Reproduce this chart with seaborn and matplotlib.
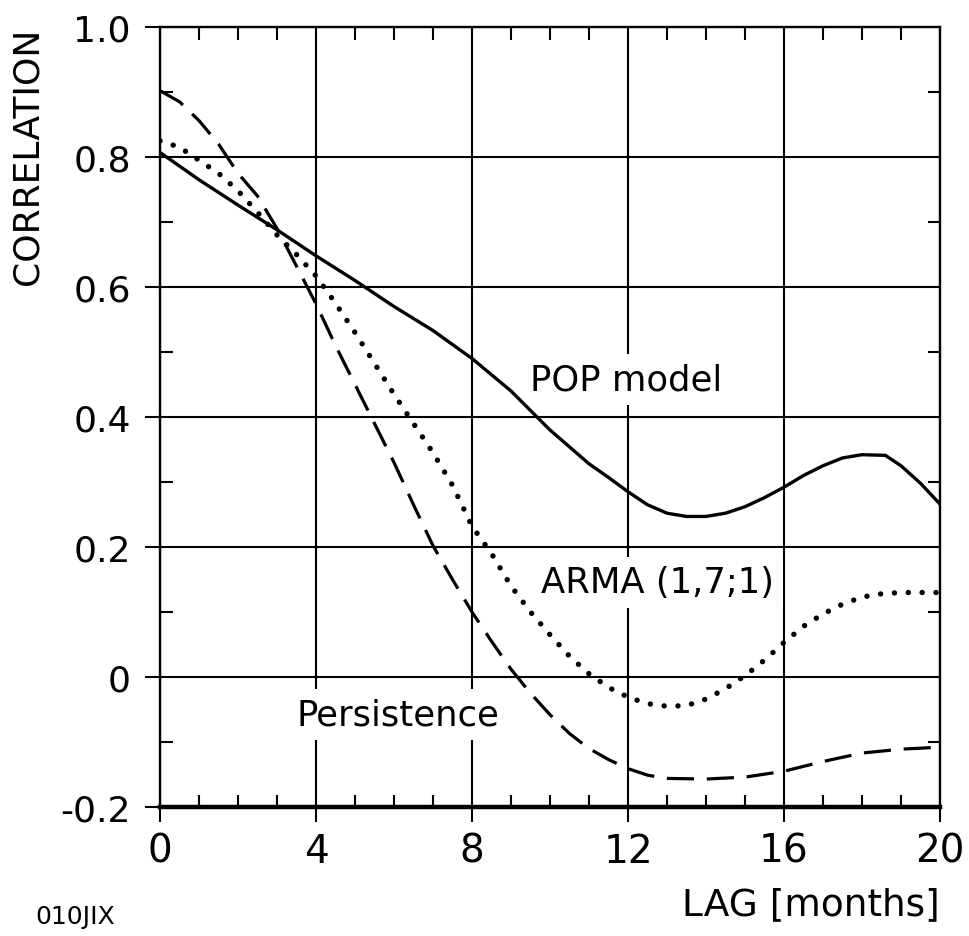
import numpy as np
import pandas as pd
import matplotlib
matplotlib.use("Agg")
import matplotlib.pyplot as plt
import seaborn as sns
from matplotlib.ticker import MultipleLocator

# ---- data ----
pop_lag = [0, 1, 2, 3, 4, 5, 6, 7, 8, 8.5, 9, 9.5, 10, 10.5, 11, 11.5, 12, 12.5, 13,
           13.5, 14, 14.5, 15, 15.5, 16, 16.5, 17, 17.5, 18, 18.6, 19, 19.5, 20]
pop_corr = [0.807, 0.765, 0.726, 0.688, 0.648, 0.61, 0.57, 0.533, 0.49, 0.465, 0.44,
            0.41, 0.38, 0.354, 0.328, 0.307, 0.285, 0.265, 0.252, 0.247, 0.247, 0.252,
            0.262, 0.276, 0.292, 0.31, 0.325, 0.337, 0.342, 0.341, 0.325, 0.298, 0.266]

arma_lag = [0, 0.5, 1, 1.5, 2, 2.5, 3, 3.5, 4, 4.5, 5, 6, 7, 7.5, 8, 8.5, 9, 9.5, 10,
            10.5, 11, 11.5, 12, 12.5, 13, 13.5, 14, 14.5, 15, 15.5, 16, 16.5, 17, 17.5,
            18, 18.5, 19, 20]
arma_corr = [0.825, 0.815, 0.795, 0.775, 0.748, 0.715, 0.68, 0.65, 0.617, 0.575, 0.53,
             0.435, 0.345, 0.295, 0.232, 0.19, 0.14, 0.1, 0.065, 0.032, 0.005, -0.016,
             -0.031, -0.041, -0.045, -0.044, -0.034, -0.018, 0.002, 0.026, 0.053, 0.078,
             0.097, 0.112, 0.123, 0.128, 0.13, 0.13]

pers_lag = [0, 0.5, 1, 1.5, 2, 2.5, 3, 3.5, 4, 4.5, 5, 5.5, 6, 6.5, 7, 7.5, 8, 8.5, 9,
            9.5, 10, 10.5, 11, 11.5, 12, 12.5, 13, 14, 15, 16, 17, 18, 19, 20]
pers_corr = [0.902, 0.885, 0.856, 0.82, 0.775, 0.74, 0.69, 0.632, 0.574, 0.51, 0.45,
             0.39, 0.33, 0.265, 0.202, 0.15, 0.1, 0.055, 0.012, -0.025, -0.058, -0.087,
             -0.11, -0.127, -0.141, -0.151, -0.156, -0.157, -0.154, -0.145, -0.13,
             -0.117, -0.111, -0.108]

x_ticks = [0, 4, 8, 12, 16, 20]
y_ticks = [-0.2, 0, 0.2, 0.4, 0.6, 0.8, 1.0]
y_tick_labels = ["-0.2", "0", "0.2", "0.4", "0.6", "0.8", "1.0"]

sns.set_style("white")
plt.rcParams['font.family'] = ['DejaVu Sans']
plt.rcParams['text.color'] = 'black'
plt.rcParams['axes.labelcolor'] = 'black'
plt.rcParams['xtick.color'] = 'black'
plt.rcParams['ytick.color'] = 'black'

fig = plt.figure(figsize=(9.69, 9.37), dpi=100)
ax = fig.add_axes([160/969, 1 - 808/937, 780/969, 780/937])

sns.lineplot(x=pop_lag, y=pop_corr, ax=ax, color='black', lw=2.4, zorder=4)
sns.lineplot(x=arma_lag, y=arma_corr, ax=ax, color='black', lw=3.9,
             linestyle=(0, (0.01, 2.55)), dash_capstyle='round', zorder=4)
sns.lineplot(x=pers_lag, y=pers_corr, ax=ax, color='black', lw=2.3,
             linestyle=(0, (8.5, 4.0)), zorder=4)

ax.set_xlim(0, 20)
ax.set_ylim(-0.2, 1.0)
ax.set_xticks(x_ticks)
ax.set_xticklabels([str(t) for t in x_ticks])
ax.set_yticks(y_ticks)
ax.set_yticklabels(y_tick_labels)
ax.xaxis.set_minor_locator(MultipleLocator(1))
ax.yaxis.set_minor_locator(MultipleLocator(0.1))

ax.grid(True, which='major', color='black', lw=1.5)
ax.set_axisbelow(True)

ax.tick_params(axis='x', which='major', direction='out', length=11, width=1.5,
               bottom=True, top=False, labelsize=28, pad=7, colors='black')
ax.tick_params(axis='x', which='minor', direction='in', length=9, width=1.5,
               bottom=True, top=True, colors='black')
ax.tick_params(axis='y', which='major', direction='out', length=11, width=1.5,
               left=True, right=False, labelsize=26, pad=10, colors='black')
ax.tick_params(axis='y', which='minor', direction='in', length=9, width=1.5,
               left=True, right=True, colors='black')

for s in ['left', 'right', 'top']:
    ax.spines[s].set_linewidth(1.7)
    ax.spines[s].set_color('black')
ax.spines['bottom'].set_linewidth(3.2)
ax.spines['bottom'].set_color('black')

box = dict(facecolor='white', edgecolor='none', pad=6)
ax.text(9.49, 0.457, "POP model", fontsize=25.5, va='center', ha='left', bbox=box,
        zorder=3, color='black')
ax.text(9.77, 0.146, "ARMA (1,7;1)", fontsize=25.5, va='center', ha='left', bbox=box,
        zorder=3, color='black')
ax.text(3.51, -0.057, "Persistence", fontsize=25.5, va='center', ha='left', bbox=box,
        zorder=3, color='black')

fig.text(940/969, 1 - 905/937, "LAG [months]", fontsize=27, ha='right', va='center',
         color='black')
fig.text(28/969, 1 - 28/937, "CORRELATION", fontsize=26, rotation=90, ha='center',
         va='top', color='black')
fig.text(35/969, 1 - 917/937, "010JIX", fontsize=18, ha='left', va='center',
         color='black')

fig.savefig("out.png", dpi=100, facecolor='white')
